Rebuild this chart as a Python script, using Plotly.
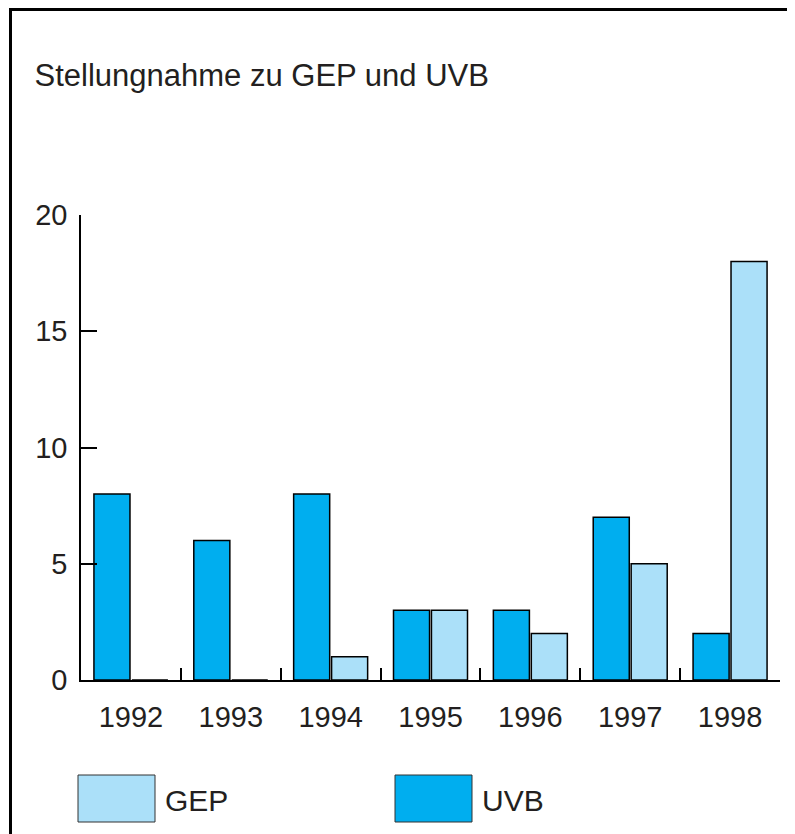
import plotly.graph_objects as go

years = ["1992", "1993", "1994", "1995", "1996", "1997", "1998"]
uvb = [8, 6, 8, 3, 3, 7, 2]
gep = [0, 0, 1, 3, 2, 5, 18]
y_ticks = [0, 5, 10, 15, 20]

OFF = 8  # page body margin
W, H = 795 - OFF, 834 - OFF
AX_L, AX_R, AX_T, AX_B = 81 - OFF, 780 - OFF, 215 - OFF, 680 - OFF
L, R, T, B = AX_L, W - AX_R, AX_T, H - AX_B
pw, ph = AX_R - AX_L, AX_B - AX_T

def px(x):  # page pixel -> paper
    return (x - OFF - AX_L) / pw

def py(y):
    return (AX_B - (y - OFF)) / ph

C_UVB = "#00AEEF"
C_GEP = "#ABE0F9"
TXT = "#231F20"
FONT = "Liberation Sans, Arial, Helvetica, sans-serif"

fig = go.Figure()
fig.add_trace(go.Bar(x=years, y=uvb, name="UVB", marker=dict(color=C_UVB, line=dict(color="black", width=1.5))))
fig.add_trace(go.Bar(x=years, y=gep, name="GEP", marker=dict(color=C_GEP, line=dict(color="black", width=1.5))))

shapes = []
shapes.append(dict(type="rect", xref="paper", yref="paper", x0=px(10.5), x1=px(820), y0=py(860), y1=py(9.5),
                   line=dict(color="black", width=3), fillcolor="rgba(0,0,0,0)", layer="above"))
shapes.append(dict(type="rect", xref="paper", yref="paper", x0=px(78), x1=px(155), y0=py(822), y1=py(775),
                   line=dict(color="#333333", width=1), fillcolor=C_GEP))
shapes.append(dict(type="rect", xref="paper", yref="paper", x0=px(395), x1=px(472), y0=py(822), y1=py(775),
                   line=dict(color="#333333", width=1), fillcolor=C_UVB))

annotations = [
    dict(text="GEP", xref="paper", yref="paper", x=px(163), y=py(800), xanchor="left", yanchor="middle",
         showarrow=False, font=dict(size=30, color=TXT, family=FONT)),
    dict(text="UVB", xref="paper", yref="paper", x=px(480), y=py(800), xanchor="left", yanchor="middle",
         showarrow=False, font=dict(size=30, color=TXT, family=FONT)),
]

fig.update_layout(
    width=W, height=H,
    margin=dict(l=L, r=R, t=T, b=B, autoexpand=False),
    paper_bgcolor="white", plot_bgcolor="white",
    barmode="group", bargap=0.24, bargroupgap=0.05,
    showlegend=False,
    font=dict(family=FONT, color=TXT, size=29),
    title=dict(text="Stellungnahme zu GEP und UVB", xref="container", yref="container",
               x=(34.5 - OFF) / W, y=1 - (75 - OFF) / H, xanchor="left", yanchor="middle",
               font=dict(size=31, color=TXT, family=FONT)),
    shapes=shapes,
    annotations=annotations,
)
fig.update_xaxes(type="category", showline=True, linecolor="black", linewidth=1.5,
                 ticks="inside", tickson="boundaries", ticklen=12, tickwidth=1.5, tickcolor="black",
                 showgrid=False, zeroline=False, tickfont=dict(size=29, color=TXT), ticklabelstandoff=10)
fig.update_yaxes(range=[0, 20], tickvals=y_ticks, showline=True, linecolor="black", linewidth=1.5,
                 ticks="inside", ticklen=16, tickwidth=1.5, tickcolor="black",
                 showgrid=False, zeroline=False, tickfont=dict(size=29, color=TXT), ticklabelstandoff=6)

fig.write_html("out.html")
